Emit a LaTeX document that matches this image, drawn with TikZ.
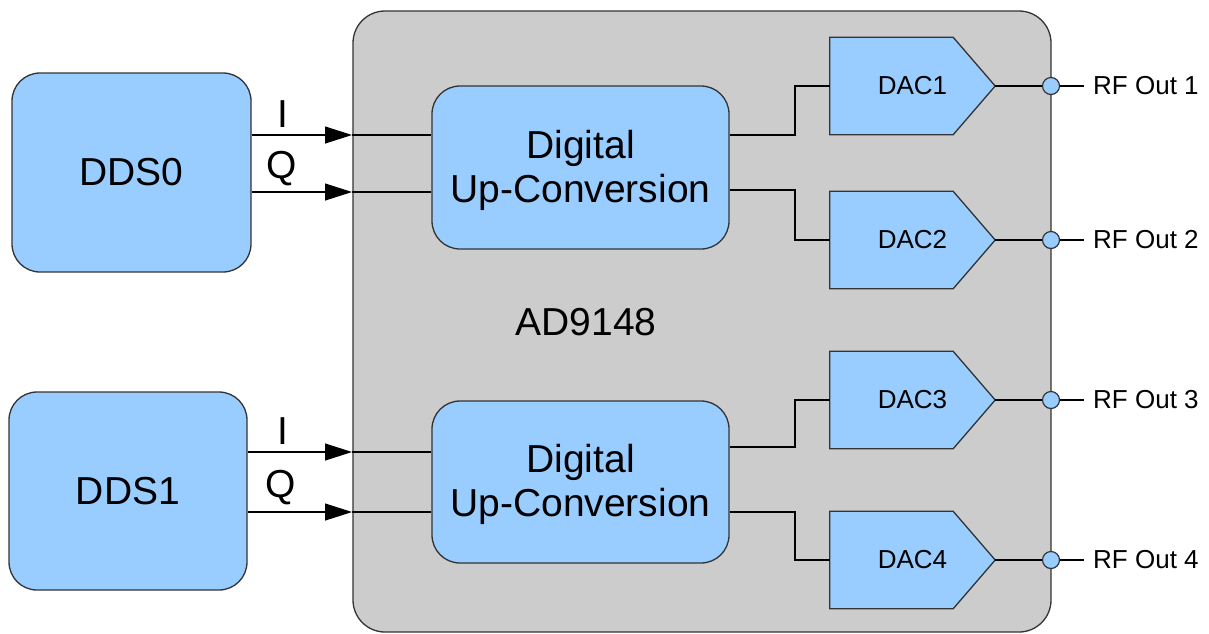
\documentclass[tikz,border=0pt]{standalone}
\usepackage{fontspec}
\setmainfont{Liberation Sans}
\usetikzlibrary{arrows.meta,calc}
\definecolor{boxblue}{HTML}{99CCFF}
\definecolor{chipgray}{HTML}{CCCCCC}
\definecolor{edge}{HTML}{333333}
\tikzset{
  bigtext/.style={font=\fontsize{39pt}{44pt}\selectfont},
  smalltext/.style={font=\fontsize{26pt}{30pt}\selectfont},
  bluebox/.style={draw=edge, line width=1.3pt, fill=boxblue, rounded corners=28pt, inner sep=0pt, align=center, bigtext},
  dacbox/.style={inner sep=0pt, minimum width=165pt, minimum height=97pt, smalltext},
  wire/.style={line width=1.2pt, draw=black},
  inarrow/.style={wire, -{Triangle[length=27pt,width=17pt]}},
  port/.style={circle, draw=edge, line width=1.2pt, fill=boxblue, minimum size=17pt, inner sep=0pt},
}
\begin{document}
\begin{tikzpicture}[x=1pt,y=-1pt]
\useasboundingbox (0,0) rectangle (1209,633);
% chip
\node[draw=edge, line width=1.3pt, fill=chipgray, rounded corners=32pt, minimum width=698pt, minimum height=621pt, inner sep=0pt] (chip) at (702,321.5) {};
\node[bigtext] (chiplabel) at (586,322) {AD9148};
% DDS blocks
\node[bluebox, minimum width=239pt, minimum height=199pt] (dds0) at (131.5,172.5) {DDS0};
\node[bluebox, minimum width=238pt, minimum height=198pt] (dds1) at (128,491) {DDS1};
% DUC blocks
\node[bluebox, minimum width=297pt, minimum height=163pt] (duc0) at (580.5,167.5) {};
\node[bigtext, align=center] (duc0text) at (580.5,170) {Digital\\Up-Conversion};
\node[bluebox, minimum width=297pt, minimum height=162pt] (duc1) at (580.5,482) {};
\node[bigtext, align=center] (duc1text) at (580.5,484.5) {Digital\\Up-Conversion};
% DACs
\foreach \n/\y in {1/86,2/240,3/400,4/560}{
  \node[dacbox] (dac\n) at (912.5,\y) {};
  \draw[fill=boxblue, draw=edge, line width=1.3pt]
    (dac\n.north west) -- ($(dac\n.north east)+(-42,0)$) -- (dac\n.east)
    -- ($(dac\n.south east)+(-42,0)$) -- (dac\n.south west) -- cycle;
  \node[smalltext] (dactext\n) at (912.5,\y) {DAC\n};
  \node[port] (port\n) at (1051,\y) {};
  \coordinate (pend\n) at (1084,\y);
  \draw[wire] (dac\n.east) -- (port\n.west);
  \draw[wire] (port\n.east) -- (pend\n);
  \node[smalltext, anchor=west, inner sep=0pt] (rf\n) at (1093,\y) {RF Out \n};
}
% inputs
\coordinate (i0) at (352,135);
\coordinate (q0) at (352,192);
\coordinate (i1) at (352,452);
\coordinate (q1) at (352,512);
\draw[inarrow] (dds0.east |- i0) -- (i0);
\draw[wire] (i0) -- (duc0.west |- i0);
\draw[inarrow] (dds0.east |- q0) -- (q0);
\draw[wire] (q0) -- (duc0.west |- q0);
\draw[inarrow] (dds1.east |- i1) -- (i1);
\draw[wire] (i1) -- (duc1.west |- i1);
\draw[inarrow] (dds1.east |- q1) -- (q1);
\draw[wire] (q1) -- (duc1.west |- q1);
\node[bigtext] (li0) at (283,114) {I};
\node[bigtext] (lq0) at (282,169) {Q};
\node[bigtext] (li1) at (283,431) {I};
\node[bigtext] (lq1) at (281,488) {Q};
% DUC to DAC wiring
\coordinate (o1) at (729,135);
\coordinate (o2) at (729,190);
\coordinate (o3) at (729,447);
\coordinate (o4) at (729,512);
\draw[wire] (duc0.east |- o1) -| (795,86) -- (dac1.west);
\draw[wire] (duc0.east |- o2) -| (795,240) -- (dac2.west);
\draw[wire] (duc1.east |- o3) -| (795,400) -- (dac3.west);
\draw[wire] (duc1.east |- o4) -| (795,560) -- (dac4.west);
\end{tikzpicture}
\end{document}
